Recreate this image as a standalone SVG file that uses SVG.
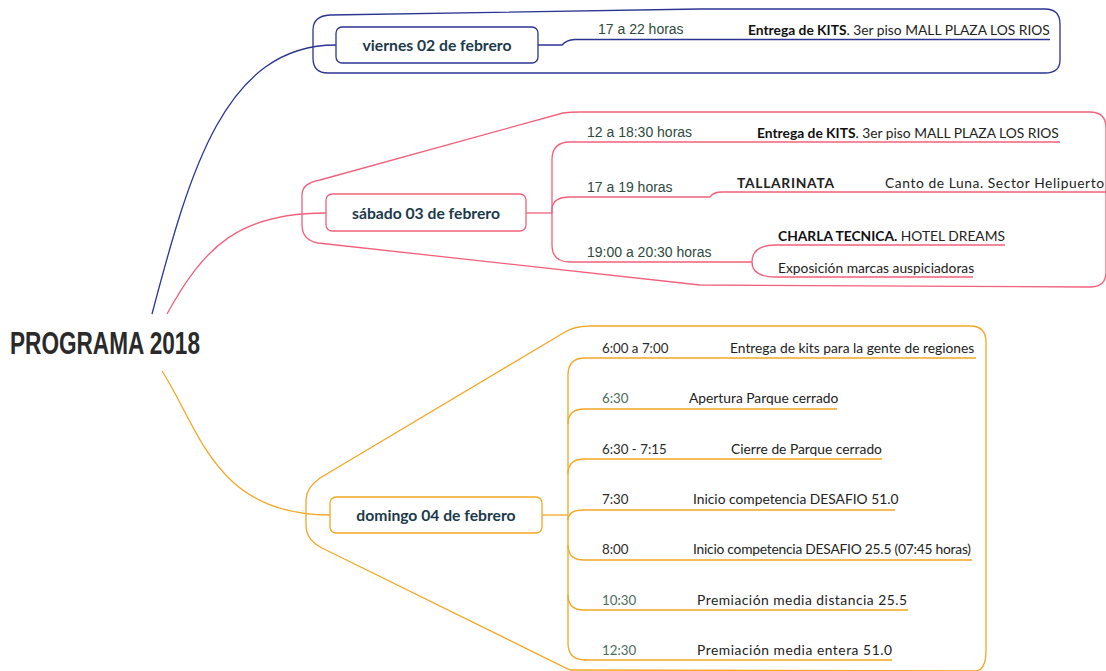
<svg xmlns="http://www.w3.org/2000/svg" width="1106" height="671" viewBox="0 0 1106 671">
<style>
.blue{stroke:#2a3593;fill:none;stroke-width:1.3}
.pink{stroke:#f2607b;fill:none;stroke-width:1.3}
.orange{stroke:#f5a623;fill:none;stroke-width:1.3}
.node{fill:#fff;stroke-width:1.3}
.nt{font-family:Lato,"Noto Sans",sans-serif;font-weight:bold;font-size:15.7px;fill:#1b3a4b;text-anchor:middle}
.time{font-family:"Liberation Sans",Arial,sans-serif;font-size:14px;fill:#2e4a40}
.otime{font-family:Lato,"Noto Sans",sans-serif;font-size:13.3px;fill:#2b2b2b}
.gtime{fill:#4b6b5b}
.det{font-family:Lato,"Noto Sans",sans-serif;font-size:13.8px;fill:#222}
.b{font-weight:bold;fill:#111}
</style>
<g id="boundaries">
<path class="blue" d="M330,15 L700,9 L1045,9 Q1060,9 1060,24 L1060,60 Q1060,73 1045,73 L328,73 Q313,73 313,58 L313,30 Q313,16 330,15 Z"/>
<path class="pink" d="M320,180 L563,113 Q570,112 580,112 L1090,112 Q1106,112 1106,128 L1106,272 Q1106,287 1090,287 L700,285 L318,243 Q302,240 302,225 L302,195 Q302,183 320,180 Z"/>
<path class="orange" d="M320,478 L565,332 Q575,326 590,326 L970,326 Q986,326 986,342 L986,650 Q986,671 975,671 L570,670 L322,548 Q306,540 306,525 L306,500 Q306,488 320,478 Z"/>
</g>
<g id="connectors">
<path class="blue" d="M152,314 C190,170 225,45 336,45"/>
<path class="pink" d="M167,314 C205,245 240,213 326,213"/>
<path class="orange" d="M162,371 C200,430 215,515 330,515"/>
<path class="blue" d="M538,45 L562,45 Q566,40 575,39.5 L1050,39.5"/>
<path class="pink" d="M526,213 L552,213"/>
<path class="pink" d="M570,142 Q552,142 552,160 L552,245 Q552,262 570,262"/>
<path class="pink" d="M570,142 L1060,142"/>
<path class="pink" d="M552,213 L552,210 Q552,197 570,197 L710,197 Q713,192 722,192 L1106,192"/>
<path class="pink" d="M570,262 L752,262 Q752,245 776,245 L1005,245 M752,262 Q752,277 776,277 L973,277"/>
<path class="orange" d="M542,515 L568,515"/>
<path class="orange" d="M585,358 Q568,358 568,375 L568,643 Q568,660 585,660"/>
<path class="orange" d="M585,358 L976,358"/>
<path class="orange" d="M568,424 Q568,409 584,409 L837,409"/>
<path class="orange" d="M568,474 Q568,459 584,459 L882,459"/>
<path class="orange" d="M568,520 Q568,510 584,510 L895,510"/>
<path class="orange" d="M568,545 Q568,560 584,560 L972,560"/>
<path class="orange" d="M568,595 Q568,610 584,610 L908,610"/>
<path class="orange" d="M584,660 L892,660"/>
</g>
<g id="root">
<text x="10" y="354" font-family="'Liberation Sans',Arial,sans-serif" font-weight="bold" font-size="32" fill="#2a2a2a" textLength="190" lengthAdjust="spacingAndGlyphs">PROGRAMA 2018</text>
</g>
<g id="viernes">
<rect class="node" x="336" y="27" width="202" height="36" rx="6" stroke="#2a3593"/>
<text class="nt" x="437" y="50.5">viernes 02 de febrero</text>
<text class="time" x="598" y="34">17 a 22 horas</text>
<text class="det" x="748" y="34.5" font-size="14.6"><tspan class="b">Entrega de KITS</tspan>. 3er piso MALL PLAZA LOS RIOS</text>
</g>
<g id="sabado">
<rect class="node" x="326" y="194" width="200" height="37" rx="6" stroke="#f2607b"/>
<text class="nt" x="426" y="218.5">sábado 03 de febrero</text>
<text class="time" x="587" y="137">12 a 18:30 horas</text>
<text class="det" x="757" y="137.5" font-size="14.6"><tspan class="b">Entrega de KITS</tspan>. 3er piso MALL PLAZA LOS RIOS</text>
<text class="time" x="587" y="192">17 a 19 horas</text>
<text class="det" x="737" y="187.5" font-weight="bold" font-size="16" fill="#1d4a3a" textLength="97">TALLARINATA</text>
<text class="det" x="885" y="187.5" font-size="16.5" textLength="219">Canto de Luna. Sector Helipuerto</text>
<text class="time" x="587" y="257">19:00 a 20:30 horas</text>
<text class="det" x="778" y="240.5" font-size="14.4"><tspan class="b">CHARLA TECNICA.</tspan> HOTEL DREAMS</text>
<text class="det" x="778" y="272.5" font-size="12.6" fill="#333">Exposición marcas auspiciadoras</text>
</g>
<g id="domingo">
<rect class="node" x="330" y="497" width="212" height="36" rx="6" stroke="#f5a623"/>
<text class="nt" x="436" y="520.5">domingo 04 de febrero</text>
<text class="otime" x="602" y="353">6:00 a 7:00</text>
<text class="det" x="730" y="353">Entrega de kits para la gente de regiones</text>
<text class="otime gtime" x="602" y="403">6:30</text>
<text class="det" x="689" y="403">Apertura Parque cerrado</text>
<text class="otime" x="602" y="454">6:30 - 7:15</text>
<text class="det" x="731" y="454">Cierre de Parque cerrado</text>
<text class="otime" x="602" y="504">7:30</text>
<text class="det" x="693" y="504">Inicio competencia DESAFIO 51.0</text>
<text class="otime" x="602" y="554">8:00</text>
<text class="det" x="693" y="554" font-size="13.3" textLength="278">Inicio competencia DESAFIO 25.5 (07:45 horas)</text>
<text class="otime gtime" x="602" y="605">10:30</text>
<text class="det" x="697" y="605" font-size="16.3" textLength="210">Premiación media distancia 25.5</text>
<text class="otime gtime" x="602" y="655">12:30</text>
<text class="det" x="697" y="655" font-size="16.3" textLength="195">Premiación media entera 51.0</text>
</g>
</svg>
